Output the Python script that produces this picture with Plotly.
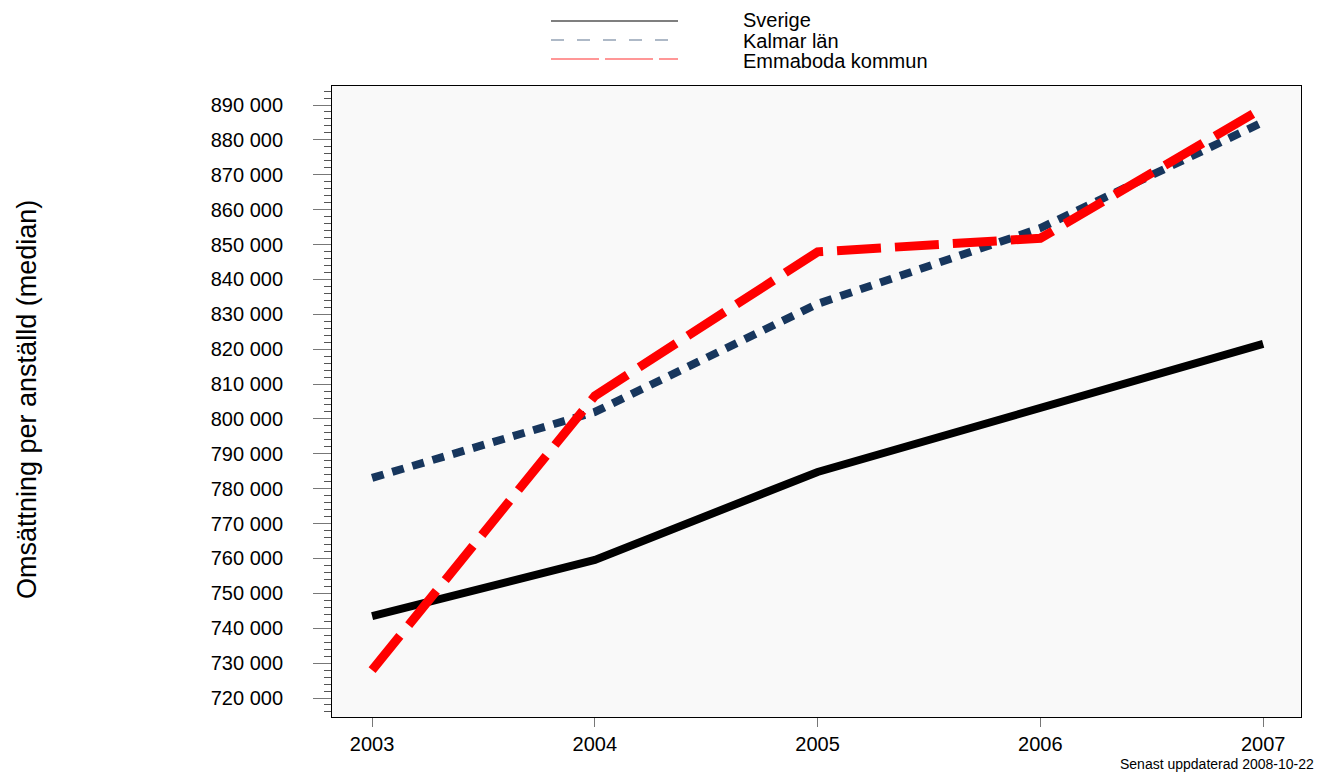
import plotly.graph_objects as go

years = [2003, 2004, 2005, 2006, 2007]
series_names = ["Sverige", "Kalmar län", "Emmaboda kommun"]
sverige = [743500, 759600, 784800, 803100, 821500]
kalmar = [783100, 802000, 833000, 854700, 885100]
emmaboda = [728000, 806600, 847900, 851800, 889200]
y_ticks = list(range(720000, 890001, 10000))
y_labels = [f"{v // 1000} 000" for v in y_ticks]
y_title = "Omsättning per anställd (median)"
footnote = "Senast uppdaterad 2008-10-22"

colors = ["#000000", "#17365D", "#FF0000"]
legend_colors = ["#000000", "#5F7490", "#FF3030"]
widths = [8, 8, 9]
dashes = ["solid", "12px,9px", "44px,14px"]
legend_dashes = ["solid", "13px,13px", "48px,6px"]

W, H = 1321, 773
L, R, T, B = 332, 20, 86, 56
PW, PH = W - L - R, H - T - B

def px(xp):
    return (xp - L) / PW

def py(yp):
    return (H - B - yp) / PH

fig = go.Figure()
for name, vals, c, w, d in zip(series_names, [sverige, kalmar, emmaboda], colors, widths, dashes):
    fig.add_trace(go.Scatter(x=years, y=vals, mode="lines", name=name,
                             line=dict(color=c, width=w, dash=d), showlegend=False))

FONT = "Liberation Sans, Arial, sans-serif"
fig.update_layout(
    width=W, height=H,
    margin=dict(l=L, r=R, t=T, b=B),
    paper_bgcolor="white",
    plot_bgcolor="#F9F9F9",
    font=dict(family=FONT, size=20, color="black"),
    xaxis=dict(range=[2002.82, 2007.17], tickmode="array", tickvals=years,
               ticktext=[str(y) for y in years], ticks="outside", ticklen=9,
               tickcolor="#777777", tickwidth=1, showgrid=False, zeroline=False,
               showline=True, linecolor="black", linewidth=1, mirror=True,
               tickfont=dict(size=20)),
    yaxis=dict(range=[714553, 895447], tickmode="array", tickvals=y_ticks,
               ticktext=y_labels, ticks="outside", ticklen=18, tickcolor="#777777",
               tickwidth=1, showgrid=False, zeroline=False, showline=True,
               linecolor="black", linewidth=1, mirror=True, tickfont=dict(size=20),
               ticklabelstandoff=26,
               minor=dict(dtick=2000, tick0=720000, ticks="outside", ticklen=7,
                          tickcolor="#555555", tickwidth=1, showgrid=False)),
)

# y title
fig.add_annotation(text=y_title, xref="paper", yref="paper", x=px(27), y=py(400),
                   textangle=-90, showarrow=False, font=dict(size=27, family=FONT),
                   xanchor="center", yanchor="middle")
# footnote
fig.add_annotation(text=footnote, xref="paper", yref="paper", x=px(1316), y=py(764),
                   showarrow=False, font=dict(size=14, family=FONT),
                   xanchor="right", yanchor="middle")

# custom legend
line_y = [21, 40, 59]
text_y = [20, 41, 61]
for name, c, d, ly, ty in zip(series_names, legend_colors, legend_dashes, line_y, text_y):
    fig.add_shape(type="line", xref="paper", yref="paper", x0=px(551), x1=px(678),
                  y0=py(ly), y1=py(ly), line=dict(color=c, width=1.2, dash=d))
    fig.add_annotation(text=name, xref="paper", yref="paper", x=px(741), y=py(ty),
                       showarrow=False, xanchor="left", yanchor="middle",
                       font=dict(size=20, family=FONT))

fig.write_html("out.html", config={"displayModeBar": False},
               post_script="document.body.style.margin='0';")
